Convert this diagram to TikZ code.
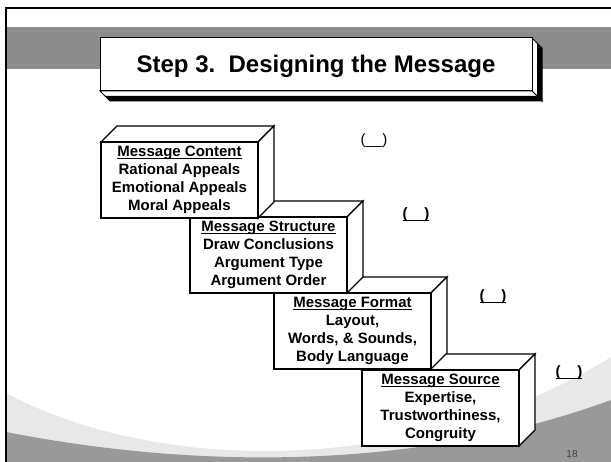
\documentclass[tikz,border=0pt]{standalone}
\usepackage{fontspec}
\setmainfont{Liberation Sans}
% underline drawn just below the baseline (descenders ignored)
\newcommand\ulbase[1]{\underline{\raisebox{0pt}[\height][0pt]{#1}}}
\begin{document}
\begin{tikzpicture}[x=1pt,y=-1pt,
  facet/.style={fill=white,draw=black,line width=1.4pt,line join=miter},
  blocktext/.style={align=center,font=\fontsize{15}{18}\selectfont\bfseries,inner sep=0pt},
  blank/.style={font=\fontsize{15}{18}\selectfont\bfseries,inner sep=0pt},
  titletext/.style={font=\fontsize{24}{28}\selectfont\bfseries,inner sep=0pt}
]
\useasboundingbox (0,0) rectangle (611,462);
\fill[white] (0,0) rectangle (611,462);

% sweeping background at the bottom
\fill[black!9] (6,393) .. controls (170,480) and (430,470) .. (611,357)
  -- (611,462) -- (6,462) -- cycle;
\fill[black!40] (6,432) .. controls (200,470) and (420,470) .. (611,400)
  -- (611,462) -- (6,462) -- cycle;

% header band and frame
\fill[black!45] (6,27) rectangle (611,69);
\draw[line width=2pt] (6,462) -- (6,8) -- (611,8);

% title plate with its extruded edge
\filldraw[fill=white,draw=black,line width=1pt] (532,38) -- (542,48) -- (542,101) -- (532,91) -- cycle;
\filldraw[fill=white,draw=black,line width=1pt] (100,91) -- (532,91) -- (542,101) -- (110,101) -- cycle;
\fill[black] (537,43) -- (542,48) -- (542,101) -- (537,96) -- cycle;
\fill[black] (105,96) -- (537,96) -- (542,101) -- (110,101) -- cycle;
\filldraw[fill=white,draw=black,line width=1pt] (100,38) rectangle (532,91);
\node[titletext,anchor=base] (title) at (316,73) {Step 3.\ \ Designing the Message};

% a stair block: name, front top-left x, y, text
\newcommand\stairblock[4]{%
  \filldraw[facet] (#2,#3) -- ++(16,-16) -- ++(157,0) -- ++(-16,16) -- cycle;
  \filldraw[facet] (#2+157,#3) -- ++(16,-16) -- ++(0,76) -- ++(-16,16) -- cycle;
  \filldraw[facet] (#2,#3) rectangle ++(157,76);
  \node[blocktext] (#1) at (#2+78.5,#3+38) {#4};
}

\stairblock{source}{362}{370}{\ulbase{Message Source}\\Expertise,\\Trustworthiness,\\Congruity}
\stairblock{format}{274}{293}{\ulbase{Message Format}\\Layout,\\Words, \& Sounds,\\Body Language}
\stairblock{structure}{190}{217}{\ulbase{Message Structure}\\Draw Conclusions\\Argument Type\\Argument Order}
\stairblock{content}{101}{142}{\ulbase{Message Content}\\Rational Appeals\\Emotional Appeals\\Moral Appeals}

% blanks beside the steps
\node[font=\fontsize{15}{18}\selectfont,inner sep=0pt] (blankA) at (374,141) {(\_\_)};
\node[blank] (blankB) at (416,214) {\ulbase{(\hspace{17pt})}};
\node[blank] (blankC) at (493,296) {\ulbase{(\hspace{17pt})}};
\node[blank] (blankD) at (569,372) {\ulbase{(\hspace{17pt})}};

% page number
\node[font=\fontsize{10}{12}\selectfont,text=black!75,inner sep=0pt] (pagenum) at (572,454) {18};
\end{tikzpicture}
\end{document}
